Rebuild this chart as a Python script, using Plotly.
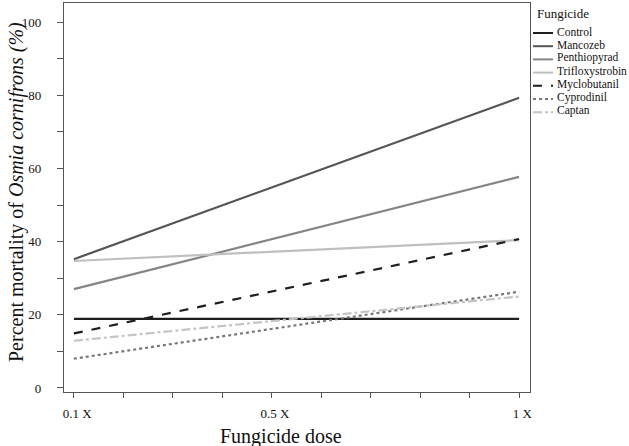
import plotly.graph_objects as go

# ---- data ----
doses = [0.1, 1.0]
fungicides = ["Control", "Mancozeb", "Penthiopyrad", "Trifloxystrobin",
              "Myclobutanil", "Cyprodinil", "Captan"]
control = [18.9, 18.9]
mancozeb = [35.2, 79.3]
penthiopyrad = [27.0, 57.7]
trifloxystrobin = [34.7, 40.4]
myclobutanil = [14.9, 40.7]
cyprodinil = [8.0, 26.3]
captan = [12.9, 25.0]
series = [control, mancozeb, penthiopyrad, trifloxystrobin,
          myclobutanil, cyprodinil, captan]

x_tickvals = [0.1, 0.2, 0.3, 0.4, 0.5, 0.6, 0.7, 0.8, 0.9, 1.0]
x_ticktext = ["\u00a0\u00a00.1 X", "", "", "", "\u00a0\u00a00.5 X", "", "", "", "", "\u00a0\u00a01 X"]
y_tickvals = [0, 10, 20, 30, 40, 50, 60, 70, 80, 90, 100]
y_ticktext = ["0", "", "20", "", "40", "", "60", "", "80", "", "100"]

# ---- styles ----
colors = ["#1e1e1e", "#555555", "#858585", "#bfbfbf", "#1e1e1e", "#777777", "#c4c4c4"]
dashes = ["solid", "solid", "solid", "solid", "dash", "dot", "dashdot"]
widths = [2.2, 2.2, 2.2, 2.2, 2.2, 2.2, 2.2]

W, H = 629, 446
L, R, T, B = 64, 530, 3, 392  # plot area in pixels
FONT = "Liberation Serif"

def px_x(p):
    return (p - L) / (R - L)

def px_y(p):
    return (B - p) / (B - T)

fig = go.Figure()
for name, vals, c, d, w in zip(fungicides, series, colors, dashes, widths):
    fig.add_trace(go.Scatter(x=doses, y=vals, mode="lines", name=name,
                             line=dict(color=c, dash=d, width=w),
                             showlegend=False))

shapes = []
annotations = []
# manual compact legend
annotations.append(dict(x=px_x(535), y=px_y(14), xref="paper", yref="paper",
                        text="Fungicide", showarrow=False, xanchor="left",
                        yanchor="middle", font=dict(family=FONT, size=13, color="#111")))
leg_y0, leg_dy = 33, 13.2
for i, (name, c, d) in enumerate(zip(fungicides, colors, dashes)):
    yy = leg_y0 + i * leg_dy
    shapes.append(dict(type="line", xref="paper", yref="paper",
                       x0=px_x(533), x1=px_x(553), y0=px_y(yy), y1=px_y(yy),
                       line=dict(color=c, dash=d, width=2)))
    annotations.append(dict(x=px_x(555), y=px_y(yy - 1.5), xref="paper", yref="paper",
                            text=name, showarrow=False, xanchor="left",
                            yanchor="middle",
                            font=dict(family=FONT, size=11.5, color="#111")))

# axis titles
annotations.append(dict(x=px_x(281), y=px_y(436), xref="paper", yref="paper",
                        text="Fungicide dose", showarrow=False,
                        xanchor="center", yanchor="middle",
                        font=dict(family=FONT, size=20, color="#111")))
annotations.append(dict(x=px_x(16), y=px_y(192), xref="paper", yref="paper",
                        text="Percent mortality of <i>Osmia cornifrons</i> <i>(%)</i>",
                        showarrow=False, textangle=-90,
                        xanchor="center", yanchor="middle",
                        font=dict(family=FONT, size=20, color="#111")))

fig.update_layout(
    width=W, height=H,
    margin=dict(l=L, r=W - R, t=T, b=H - B, pad=0),
    paper_bgcolor="white", plot_bgcolor="white",
    font=dict(family=FONT, size=13, color="#111"),
    shapes=shapes, annotations=annotations,
    showlegend=False,
)
fig.update_xaxes(range=[0.08, 1.022], tickvals=x_tickvals, ticktext=x_ticktext,
                 showgrid=False, zeroline=False, showline=True, mirror=True,
                 linecolor="#555", linewidth=1.2, ticks="outside", ticklen=5,
                 tickcolor="#555", tickwidth=1.2, ticklabelstandoff=4,
                 tickfont=dict(family=FONT, size=13, color="#111"))
fig.update_yaxes(range=[-1.1, 105.2], tickvals=y_tickvals, ticktext=y_ticktext,
                 showgrid=False, zeroline=False, showline=True, mirror=True,
                 linecolor="#555", linewidth=1.2, ticks="outside", ticklen=6,
                 tickcolor="#555", tickwidth=1.2, ticklabelstandoff=13,
                 tickfont=dict(family=FONT, size=13, color="#111"))

fig.write_html("out.html")
